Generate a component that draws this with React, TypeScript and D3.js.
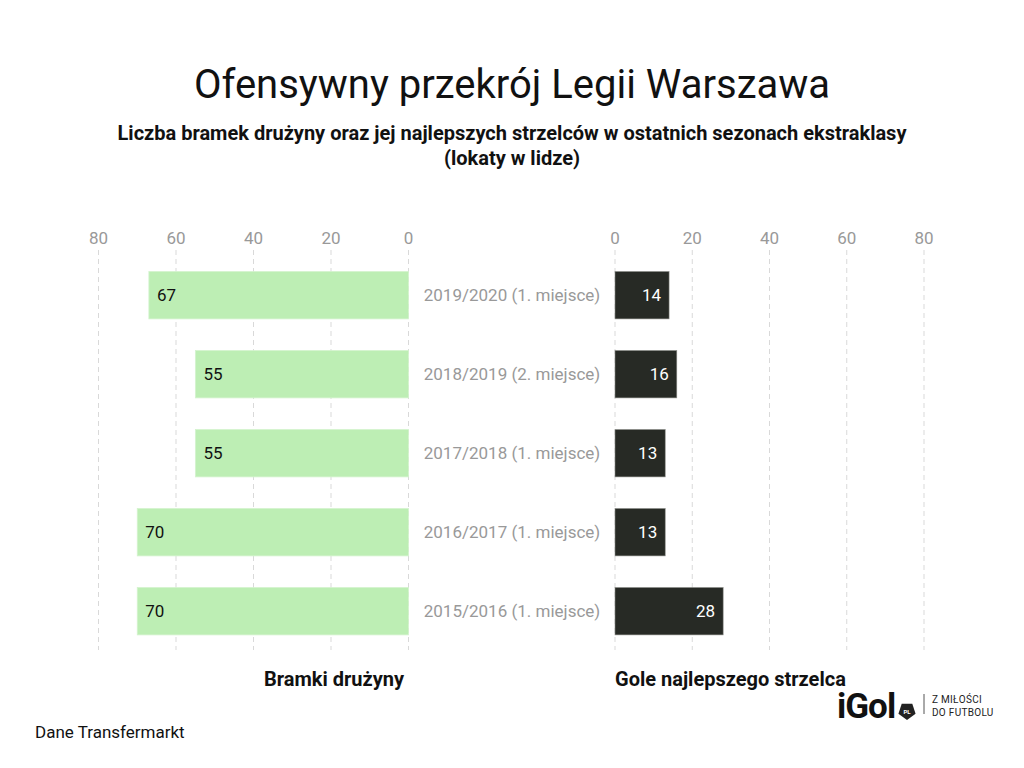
import { useEffect, useRef } from 'react';
import * as d3 from 'd3';

const seasons = [
  '2019/2020 (1. miejsce)',
  '2018/2019 (2. miejsce)',
  '2017/2018 (1. miejsce)',
  '2016/2017 (1. miejsce)',
  '2015/2016 (1. miejsce)',
];
const teamGoals = [67, 55, 55, 70, 70];
const scorerGoals = [14, 16, 13, 13, 28];
const ticks = [0, 20, 40, 60, 80];

const FONT = 'Roboto, "Noto Sans", sans-serif';

export default function App() {
  const svgRef = useRef<SVGSVGElement>(null);

  useEffect(() => {
    if (!svgRef.current) return;
    const svg = d3.select(svgRef.current);
    svg.selectAll('*').remove();

    const xLeft = d3.scaleLinear().domain([0, 80]).range([408.5, 98.5]);
    const xRight = d3.scaleLinear().domain([0, 80]).range([615, 924]);
    const y = d3.scaleBand<string>()
      .domain(seasons)
      .range([255.7, 650.7])
      .paddingInner(0.4)
      .paddingOuter(0.2);

    // titles
    svg.append('text')
      .attr('x', 512).attr('y', 98)
      .attr('text-anchor', 'middle')
      .attr('font-family', FONT).attr('font-size', 40)
      .attr('fill', '#111')
      .text('Ofensywny przekrój Legii Warszawa');

    const sub = svg.append('text')
      .attr('text-anchor', 'middle')
      .attr('font-family', FONT).attr('font-size', 20).attr('font-weight', 700)
      .attr('fill', '#111');
    sub.append('tspan').attr('x', 512).attr('y', 140)
      .text('Liczba bramek drużyny oraz jej najlepszych strzelców w ostatnich sezonach ekstraklasy');
    sub.append('tspan').attr('x', 512).attr('y', 165).text('(lokaty w lidze)');

    // grids + ticks
    const drawGrid = (x: d3.ScaleLinear<number, number>) => {
      const g = svg.append('g');
      g.selectAll('line').data(ticks).join('line')
        .attr('x1', d => x(d)).attr('x2', d => x(d))
        .attr('y1', 250).attr('y2', 650)
        .attr('stroke', '#d9d9d9').attr('stroke-width', 1)
        .attr('stroke-dasharray', '5,4');
      g.selectAll('text').data(ticks).join('text')
        .attr('x', d => x(d)).attr('y', 244)
        .attr('text-anchor', 'middle')
        .attr('font-family', FONT).attr('font-size', 17)
        .attr('fill', '#999')
        .text(d => d);
    };
    drawGrid(xLeft);
    drawGrid(xRight);

    // left bars
    const left = svg.append('g');
    left.selectAll('rect').data(teamGoals).join('rect')
      .attr('x', d => xLeft(d))
      .attr('y', (_, i) => y(seasons[i])!)
      .attr('width', d => xLeft(0) - xLeft(d))
      .attr('height', y.bandwidth())
      .attr('fill', '#bdeeb4')
      .attr('stroke', '#d4f3ce').attr('stroke-width', 0.8);
    left.selectAll('text').data(teamGoals).join('text')
      .attr('x', d => xLeft(d) + 8)
      .attr('y', (_, i) => y(seasons[i])! + y.bandwidth() / 2)
      .attr('dy', '0.35em')
      .attr('font-family', FONT).attr('font-size', 17)
      .attr('fill', '#111')
      .text(d => d);

    // right bars
    const right = svg.append('g');
    right.selectAll('rect').data(scorerGoals).join('rect')
      .attr('x', xRight(0))
      .attr('y', (_, i) => y(seasons[i])!)
      .attr('width', d => xRight(d) - xRight(0))
      .attr('height', y.bandwidth())
      .attr('fill', '#272a25')
      .attr('stroke', '#8a8c88').attr('stroke-width', 0.6);
    right.selectAll('text').data(scorerGoals).join('text')
      .attr('x', d => xRight(d) - 8)
      .attr('y', (_, i) => y(seasons[i])! + y.bandwidth() / 2)
      .attr('dy', '0.35em')
      .attr('text-anchor', 'end')
      .attr('font-family', FONT).attr('font-size', 17)
      .attr('fill', '#fff')
      .text(d => d);

    // category labels
    svg.append('g').selectAll('text').data(seasons).join('text')
      .attr('x', 512)
      .attr('y', d => y(d)! + y.bandwidth() / 2)
      .attr('dy', '0.35em')
      .attr('text-anchor', 'middle')
      .attr('font-family', FONT).attr('font-size', 17)
      .attr('fill', '#999')
      .text(d => d);

    // axis titles
    svg.append('text')
      .attr('x', 404).attr('y', 686)
      .attr('text-anchor', 'end')
      .attr('font-family', FONT).attr('font-size', 20).attr('font-weight', 700)
      .attr('fill', '#111')
      .text('Bramki drużyny');
    svg.append('text')
      .attr('x', 615).attr('y', 686)
      .attr('font-family', FONT).attr('font-size', 20).attr('font-weight', 700)
      .attr('fill', '#111')
      .text('Gole najlepszego strzelca');

    svg.append('text')
      .attr('x', 35).attr('y', 738)
      .attr('font-family', FONT).attr('font-size', 17)
      .attr('fill', '#111')
      .text('Dane Transfermarkt');

    // logo
    const logo = svg.append('g');
    logo.append('text')
      .attr('x', 837).attr('y', 718)
      .attr('font-family', FONT).attr('font-size', 35).attr('font-weight', 700)
      .attr('letter-spacing', -1)
      .attr('fill', '#111')
      .text('iGol');
    const pent = d3.range(5).map(i => {
      const a = -Math.PI / 2 + (i * 2 * Math.PI) / 5 + Math.PI / 5;
      return [907 + 9 * Math.cos(a), 711 + 9 * Math.sin(a)] as [number, number];
    });
    logo.append('path')
      .attr('d', d3.line()(pent) + 'Z')
      .attr('fill', '#222');
    logo.append('text')
      .attr('x', 907).attr('y', 714)
      .attr('text-anchor', 'middle')
      .attr('font-family', FONT).attr('font-size', 6).attr('font-weight', 700)
      .attr('fill', '#fff')
      .text('PL');
    logo.append('line')
      .attr('x1', 924).attr('x2', 924).attr('y1', 694).attr('y2', 714)
      .attr('stroke', '#555').attr('stroke-width', 1);
    logo.append('text')
      .attr('x', 932).attr('y', 703)
      .attr('font-family', FONT).attr('font-size', 10).attr('letter-spacing', 0.3)
      .attr('fill', '#222')
      .text('Z MIŁOŚCI');
    logo.append('text')
      .attr('x', 932).attr('y', 716)
      .attr('font-family', FONT).attr('font-size', 10).attr('letter-spacing', 0.3)
      .attr('fill', '#222')
      .text('DO FUTBOLU');
  }, []);

  return (
    <svg
      ref={svgRef}
      width={1024}
      height={768}
      style={{ position: 'absolute', left: 0, top: 0, background: '#fff' }}
    />
  );
}
